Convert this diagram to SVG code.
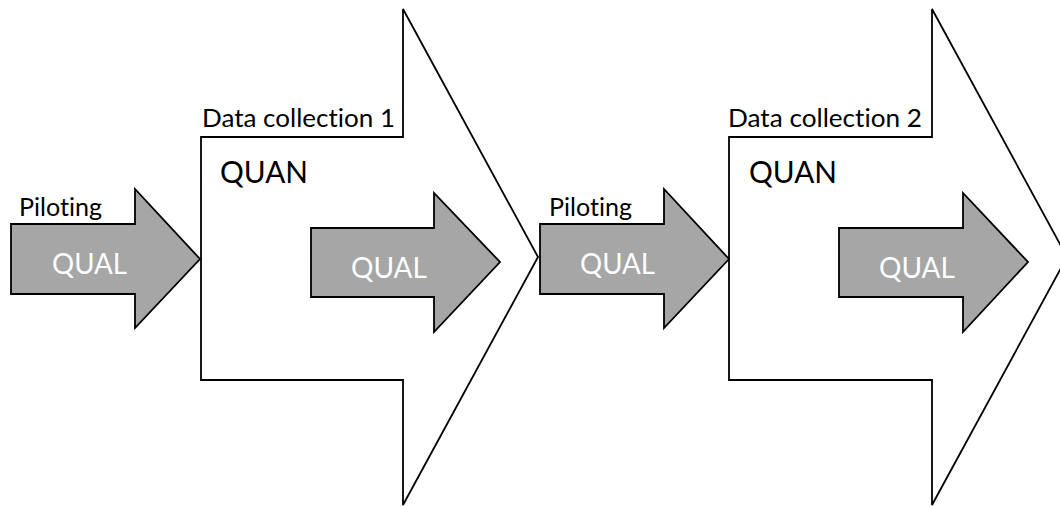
<svg xmlns="http://www.w3.org/2000/svg" width="1060" height="506" viewBox="0 0 1060 506">
<style>
.big{fill:#ffffff;stroke:#000;stroke-width:1.8;stroke-linejoin:miter}
.sm{fill:#a6a6a6;stroke:#000;stroke-width:1.8;stroke-linejoin:miter}
text{font-family:Lato,"DejaVu Sans",sans-serif;font-variant-ligatures:none;font-feature-settings:"liga" 0,"clig" 0}
.lbl{font-size:25px;fill:#000}
.quan{font-size:31px;fill:#000}
.qual{font-size:29px;fill:#ffffff}
</style>
<rect width="1060" height="506" fill="#ffffff"/>
<g id="datacollection1">
<polygon class="big" points="201,137 403,137 403,9 538,257 403,505 403,380 201,380"/>
<text class="lbl" x="202" y="127" textLength="193" lengthAdjust="spacingAndGlyphs">Data collection 1</text>
<text class="quan" x="220" y="183" textLength="88" lengthAdjust="spacingAndGlyphs">QUAN</text>
</g>
<g id="datacollection2">
<polygon class="big" points="729,137 932,137 932,9 1067,257 932,505 932,380 729,380"/>
<text class="lbl" x="728" y="127" textLength="194" lengthAdjust="spacingAndGlyphs">Data collection 2</text>
<text class="quan" x="749" y="183" textLength="88" lengthAdjust="spacingAndGlyphs">QUAN</text>
</g>
<g id="piloting1">
<polygon class="sm" points="11,224 135,224 135,189 200,259 135,328 135,294 11,294"/>
<text class="lbl" x="19" y="216" textLength="83" lengthAdjust="spacingAndGlyphs">Piloting</text>
<text class="qual" x="52" y="274" textLength="75" lengthAdjust="spacingAndGlyphs">QUAL</text>
</g>
<g id="inner1">
<polygon class="sm" points="311,228 434,228 434,193 500,262 434,332 434,297 311,297"/>
<text class="qual" x="351" y="278" textLength="76" lengthAdjust="spacingAndGlyphs">QUAL</text>
</g>
<g id="piloting2">
<polygon class="sm" points="540,224 664,224 664,189 729,259 664,328 664,294 540,294"/>
<text class="lbl" x="549" y="216" textLength="83" lengthAdjust="spacingAndGlyphs">Piloting</text>
<text class="qual" x="580" y="274" textLength="75" lengthAdjust="spacingAndGlyphs">QUAL</text>
</g>
<g id="inner2">
<polygon class="sm" points="839,228 963,228 963,193 1028,262 963,332 963,297 839,297"/>
<text class="qual" x="879" y="278" textLength="76" lengthAdjust="spacingAndGlyphs">QUAL</text>
</g>
</svg>
